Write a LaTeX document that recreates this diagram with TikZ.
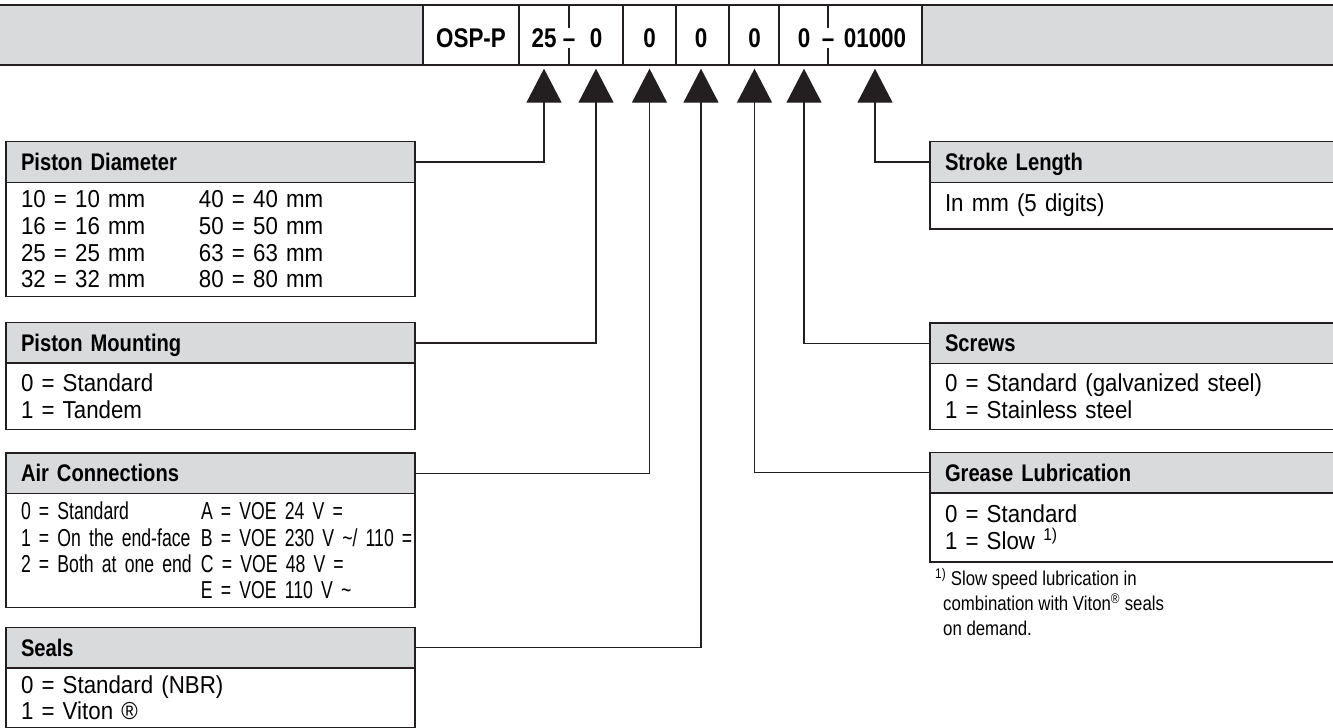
\documentclass[tikz,border=0pt]{standalone}
\usepackage{fontspec}
\setmainfont{Liberation Sans}
\newfontfamily\bodyfamily[FakeStretch=0.91]{Liberation Sans}
\newfontfamily\narrowfamily[FakeStretch=0.72]{Liberation Sans}
\newfontfamily\hdrfamily[FakeStretch=0.84]{Liberation Sans}
\newfontfamily\codefamily[FakeStretch=0.83]{Liberation Sans}
\newfontfamily\notefamily[FakeStretch=0.84]{Liberation Sans}
\usepackage{tikz}
\usetikzlibrary{arrows.meta, positioning}
\definecolor{cGray}{RGB}{217,218,220}
\definecolor{cLine}{RGB}{35,31,32}
\newcommand{\leftcol}[2][178pt]{\makebox[#1][l]{#2}}
\tikzset{
	hdr/.style    ={rectangle, draw=cLine, fill=cGray, line width=1.3pt, outer sep=0pt, text width=379pt, inner xsep=15pt, inner ysep=0pt, minimum height=40.5pt, text height=17pt, text depth=0pt, align=left, font=\fontsize{24}{26}\hdrfamily\bfseries},
	bodybox/.style={rectangle, draw=cLine, fill=white, line width=1.3pt, outer sep=0pt, text width=379pt, inner xsep=15pt, inner ysep=0pt, align=left, font=\fontsize{24.5}{26.7}\bodyfamily},
	codetxt/.style={inner sep=0pt, text height=19pt, text depth=0pt, font=\fontsize{27}{30}\codefamily\bfseries},
	note/.style   ={inner sep=0pt, align=left, font=\fontsize{20}{25}\notefamily},
	conn/.style   ={draw=cLine, line width=1.3pt, -{Triangle[length=34pt, width=35pt]}, shorten >=3pt},
}
\begin{document}
\begin{tikzpicture}[x=1pt, y=-1pt]
	\useasboundingbox (0,0) rectangle (1333,728);
	% order code bar
	\fill[cGray] (0,5) rectangle (1333,65);
	\draw[cLine, line width=1.3pt] (0,5) -- (1333,5) (0,65) -- (1333,65);
	\node[draw=cLine, fill=white, line width=1.3pt, minimum width=499pt, minimum height=60pt, inner sep=0pt] (code) at (672.5,35) {};
	\foreach \cx in {519,623,676,729,779}
		\draw[cLine, line width=1.3pt] (\cx,5) -- (\cx,65);
	\foreach \cx in {569,828}
		\draw[cLine, line width=1.3pt] (\cx,5) -- (\cx,28) (\cx,48) -- (\cx,65);
	\node[codetxt] (osp) at (471,38) {OSP-P};
	\node[codetxt] (cdia) at (544,38) {25};
	\node[codetxt] (dashA) at (569,38) {\textendash};
	\node[codetxt] (cmount) at (596,38) {0};
	\node[codetxt] (cair) at (649.5,38) {0};
	\node[codetxt] (cseal) at (701,38) {0};
	\node[codetxt] (cgrease) at (754.5,38) {0};
	\node[codetxt] (cscrew) at (804,38) {0};
	\node[codetxt] (dashB) at (828,38) {\textendash};
	\node[codetxt] (cstroke) at (875,38) {01000};

	% left column
	\node[hdr, anchor=north west] (pd) at (6,141.7) {Piston Diameter};
	\node[bodybox, below=0pt of pd, minimum height=114.4pt] (pdb) {\leftcol{10 = 10 mm}40 = 40 mm\\\leftcol{16 = 16 mm}50 = 50 mm\\\leftcol{25 = 25 mm}63 = 63 mm\\\leftcol{32 = 32 mm}80 = 80 mm};
	\node[hdr, below=26pt of pdb] (pm) {Piston Mounting};
	\node[bodybox, below=0pt of pm, minimum height=66.5pt] (pmb) {0 = Standard\\1 = Tandem};
	\node[hdr, below=23.3pt of pmb] (ac) {Air Connections};
	\node[bodybox, below=0pt of ac, minimum height=114pt, font=\fontsize{24.5}{26.3}\narrowfamily] (acb) {\mbox{\leftcol[180pt]{0 = Standard}A = VOE 24 V =}\\\mbox{\leftcol[180pt]{1 = On the end-face}B = VOE 230 V \textasciitilde/ 110 =}\\\mbox{\leftcol[180pt]{2 = Both at one end}C = VOE 48 V =}\\\mbox{\leftcol[180pt]{}E = VOE 110 V \textasciitilde}};
	\node[hdr, below=20pt of acb] (se) {Seals};
	\node[bodybox, below=0pt of se, minimum height=59.5pt] (seb) {0 = Standard (NBR)\\1 = Viton \textregistered};

	% right column
	\node[hdr, anchor=north west] (sl) at (930,141.7) {Stroke Length};
	\node[bodybox, below=0pt of sl, minimum height=46.7pt] (slb) {In mm (5 digits)};
	\node[hdr, below=94pt of slb] (sc) {Screws};
	\node[bodybox, below=0pt of sc, minimum height=66pt] (scb) {0 = Standard (galvanized steel)\\1 = Stainless steel};
	\node[hdr, below=23pt of scb] (gl) {Grease Lubrication};
	\node[bodybox, below=0pt of gl, minimum height=69pt] (glb) {0 = Standard\\1 = Slow \textsuperscript{1)}};
	\node[note, anchor=north west] (fn) at ([xshift=5pt,yshift=-6pt]glb.south west) {\textsuperscript{1)} Slow speed lubrication in\\\hspace*{8pt}combination with Viton\textsuperscript{\textregistered} seals\\\hspace*{8pt}on demand.};

	% connectors
	\draw[conn] (pd.east) -| (cdia |- code.south);
	\draw[conn] (pm.east) -| (cmount |- code.south);
	\draw[conn] (ac.east) -| (cair |- code.south);
	\draw[conn] (se.east) -| (cseal |- code.south);
	\draw[conn] (gl.west) -| (cgrease |- code.south);
	\draw[conn] (sc.west) -| (cscrew |- code.south);
	\draw[conn] (sl.west) -| (cstroke |- code.south);
\end{tikzpicture}
\end{document}
